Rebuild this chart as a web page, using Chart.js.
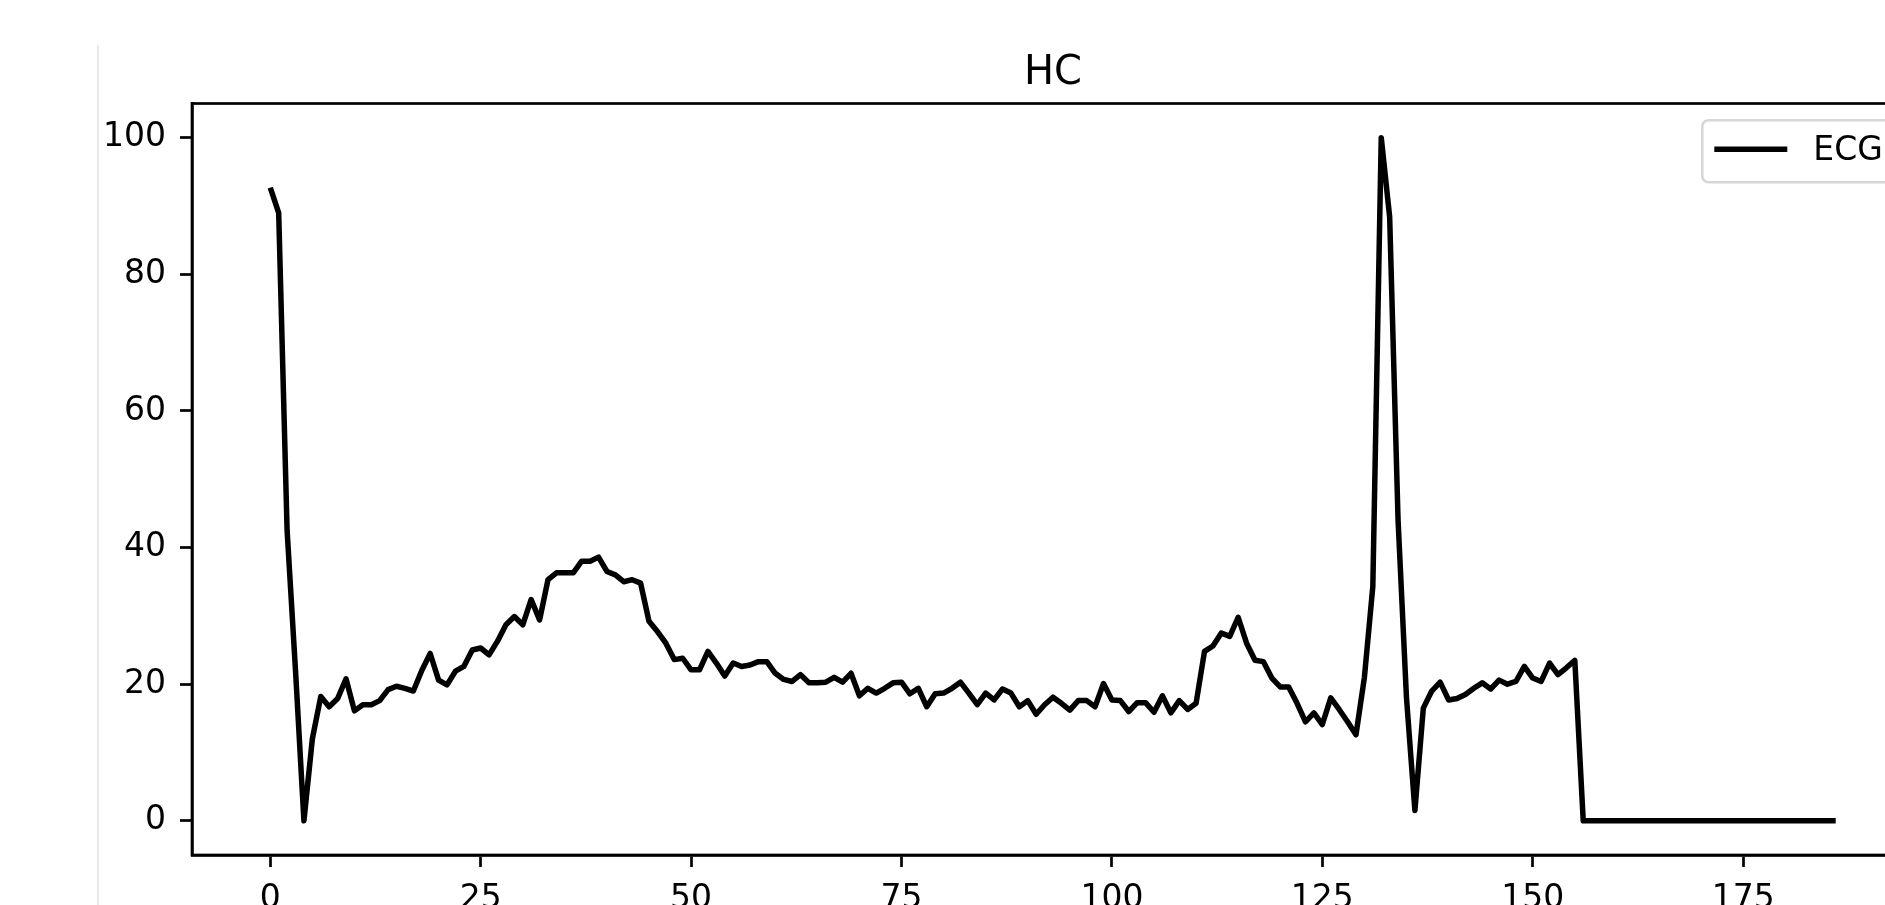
<!DOCTYPE html>
<html><head><meta charset="utf-8">
<script src="https://cdn.jsdelivr.net/npm/chart.js@4"></script>
<style>html,body{margin:0;padding:0;overflow:hidden;background:#fff;width:1885px;height:905px}canvas{display:block}</style>
</head><body><canvas id="c" width="2106" height="905"></canvas>
<script>
const chartTitle = 'HC';
const seriesLabel = 'ECG';
const ecgValues = [
 92.7, 89.0, 42.5, 22.0, 0.0, 12.0, 18.2, 16.7, 17.9, 20.8,
 16.1, 17.0, 17.0, 17.6, 19.2, 19.7, 19.4, 19.0, 22.0, 24.5,
 20.6, 19.9, 21.9, 22.6, 25.0, 25.3, 24.3, 26.3, 28.7, 29.9,
 28.7, 32.4, 29.4, 35.3, 36.3, 36.3, 36.3, 38.0, 38.0, 38.6,
 36.5, 36.0, 35.0, 35.3, 34.8, 29.2, 27.7, 26.0, 23.6, 23.8,
 22.1, 22.1, 24.8, 23.1, 21.2, 23.1, 22.6, 22.8, 23.3, 23.3,
 21.6, 20.7, 20.4, 21.4, 20.2, 20.2, 20.3, 21.0, 20.3, 21.6,
 18.3, 19.4, 18.7, 19.4, 20.2, 20.3, 18.6, 19.4, 16.7, 18.6,
 18.7, 19.4, 20.3, 18.7, 17.0, 18.7, 17.7, 19.3, 18.7, 16.7,
 17.6, 15.6, 17.0, 18.1, 17.2, 16.2, 17.6, 17.6, 16.7, 20.1,
 17.7, 17.6, 16.0, 17.3, 17.3, 15.9, 18.3, 15.8, 17.6, 16.3,
 17.2, 24.8, 25.6, 27.5, 27.0, 29.8, 26.0, 23.5, 23.3, 20.9,
 19.6, 19.6, 17.2, 14.5, 15.8, 14.1, 18.0, 16.3, 14.5, 12.6,
 21.0, 34.3, 100.0, 88.4, 44.0, 18.0, 1.5, 16.5, 19.0, 20.3,
 17.7, 17.9, 18.5, 19.4, 20.2, 19.3, 20.6, 20.0, 20.4, 22.6,
 20.9, 20.4, 23.1, 21.4, 22.4, 23.5, 0, 0, 0, 0,
 0, 0, 0, 0, 0, 0, 0, 0, 0, 0,
 0, 0, 0, 0, 0, 0, 0, 0, 0, 0,
 0, 0, 0, 0, 0, 0, 0
];
const xTickValues = [0, 25, 50, 75, 100, 125, 150, 175];
const yTickValues = [0, 20, 40, 60, 80, 100];
const xRange = [-9.3, 195.3];
const yRange = [-5, 105];

const points = ecgValues.map((v, i) => ({x: i, y: v}));
const FONT = "'DejaVu Sans', sans-serif";

const framePlugin = {
  id: 'frame',
  beforeDraw(chart) {
    const ctx = chart.ctx;
    ctx.save();
    ctx.strokeStyle = '#e2e2e2';
    ctx.lineWidth = 1.5;
    ctx.beginPath();
    ctx.moveTo(98, 45);
    ctx.lineTo(98, 905);
    ctx.stroke();
    ctx.restore();
  },
  afterDatasetsDraw(chart) {
    const ca = chart.chartArea, ctx = chart.ctx;
    ctx.save();
    ctx.strokeStyle = '#000';
    ctx.lineWidth = 2.7;
    ctx.strokeRect(ca.left, ca.top, ca.right - ca.left, ca.bottom - ca.top);
    ctx.restore();
  },
  afterDraw(chart) {
    const ca = chart.chartArea, ctx = chart.ctx;
    const ds = chart.data.datasets[0];
    const pad = 16.7;
    const w = 195, h = 62;
    const x0 = ca.right - pad - w, y0 = ca.top + pad;
    ctx.save();
    ctx.beginPath();
    const r = 7;
    ctx.moveTo(x0 + r, y0);
    ctx.lineTo(x0 + w - r, y0);
    ctx.quadraticCurveTo(x0 + w, y0, x0 + w, y0 + r);
    ctx.lineTo(x0 + w, y0 + h - r);
    ctx.quadraticCurveTo(x0 + w, y0 + h, x0 + w - r, y0 + h);
    ctx.lineTo(x0 + r, y0 + h);
    ctx.quadraticCurveTo(x0, y0 + h, x0, y0 + h - r);
    ctx.lineTo(x0, y0 + r);
    ctx.quadraticCurveTo(x0, y0, x0 + r, y0);
    ctx.closePath();
    ctx.fillStyle = 'rgba(255,255,255,0.8)';
    ctx.fill();
    ctx.strokeStyle = '#d6d6d6';
    ctx.lineWidth = 2.5;
    ctx.stroke();
    ctx.strokeStyle = ds.borderColor;
    ctx.lineWidth = ds.borderWidth;
    ctx.beginPath();
    ctx.moveTo(x0 + 12, y0 + 29);
    ctx.lineTo(x0 + 85, y0 + 29);
    ctx.stroke();
    ctx.fillStyle = '#000';
    ctx.font = '33px ' + FONT;
    ctx.textBaseline = 'middle';
    ctx.textAlign = 'left';
    ctx.fillText(ds.label, x0 + 111, y0 + 31);
    ctx.restore();
  }
};

new Chart(document.getElementById('c'), {
  type: 'line',
  data: {
    datasets: [{
      label: seriesLabel,
      data: points,
      borderColor: '#000',
      borderWidth: 5.5,
      pointRadius: 0,
      tension: 0,
      fill: false,
      borderJoinStyle: 'round',
      borderCapStyle: 'butt'
    }]
  },
  options: {
    responsive: false,
    animation: false,
    devicePixelRatio: 1,
    layout: {padding: {left: 0, right: 192, top: 0, bottom: 0}},
    plugins: {
      legend: {display: false},
      tooltip: {enabled: false},
      title: {
        display: true,
        fullSize: false,
        text: chartTitle,
        color: '#000',
        font: {family: FONT, size: 40, weight: 'normal'},
        padding: {top: 49.5, bottom: 6}
      }
    },
    scales: {
      x: {
        type: 'linear',
        min: xRange[0], max: xRange[1],
        afterBuildTicks(scale) { scale.ticks = xTickValues.map(v => ({value: v})); },
        afterFit(scale) { scale.height = 50; },
        ticks: {color: '#000', font: {family: FONT, size: 33}, padding: 13, maxRotation: 0, autoSkip: false},
        grid: {drawOnChartArea: false, drawTicks: true, tickLength: 12, tickColor: '#000', tickWidth: 2.7},
        border: {display: true, color: '#000', width: 2.7}
      },
      y: {
        type: 'linear',
        min: yRange[0], max: yRange[1],
        afterBuildTicks(scale) { scale.ticks = yTickValues.map(v => ({value: v})); },
        afterFit(scale) { scale.width = 192; },
        ticks: {color: '#000', font: {family: FONT, size: 33}, padding: 14, autoSkip: false},
        grid: {drawOnChartArea: false, drawTicks: true, tickLength: 12, tickColor: '#000', tickWidth: 2.7},
        border: {display: true, color: '#000', width: 2.7}
      }
    }
  },
  plugins: [framePlugin]
});
</script></body></html>
